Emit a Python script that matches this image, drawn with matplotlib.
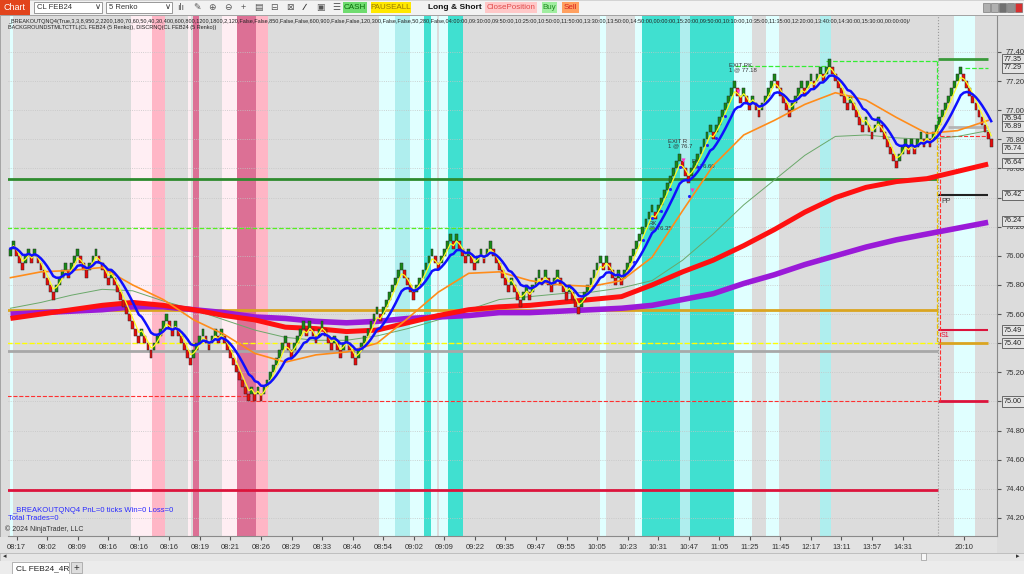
import numpy as np
import pandas as pd
import matplotlib
matplotlib.use("Agg")
import matplotlib.pyplot as plt
from matplotlib.patches import Rectangle

plt.rcParams['font.family'] = ['Liberation Sans', 'DejaVu Sans']

BRICK = 0.05

# renko closes, one per brick (5 Renko, CL FEB24)
closes = [
    76.05, 76.10, 76.00, 75.95, 75.90, 76.00, 76.05, 75.95, 76.05, 75.95,
    75.90, 75.85, 75.80, 75.75, 75.70, 75.80, 75.85, 75.90, 75.95, 75.85,
    75.95, 76.00, 76.05, 75.95, 75.90, 75.85, 75.95, 76.00, 76.05, 75.95,
    75.90, 75.85, 75.80, 75.90, 75.80, 75.75, 75.70, 75.65, 75.60, 75.55,
    75.50, 75.45, 75.40, 75.50, 75.40, 75.35, 75.30, 75.40, 75.45, 75.50,
    75.55, 75.60, 75.50, 75.45, 75.55, 75.45, 75.40, 75.35, 75.30, 75.25,
    75.35, 75.40, 75.45, 75.50, 75.40, 75.35, 75.45, 75.50, 75.40, 75.50,
    75.40, 75.35, 75.30, 75.25, 75.20, 75.15, 75.10, 75.05, 75.00, 75.10,
    75.00, 75.10, 75.00, 75.10, 75.15, 75.20, 75.25, 75.30, 75.35, 75.40,
    75.45, 75.35, 75.30, 75.40, 75.45, 75.50, 75.55, 75.45, 75.55, 75.45,
    75.40, 75.50, 75.55, 75.45, 75.40, 75.35, 75.45, 75.35, 75.30, 75.40,
    75.45, 75.35, 75.30, 75.25, 75.35, 75.40, 75.45, 75.50, 75.55, 75.60,
    75.65, 75.55, 75.65, 75.70, 75.75, 75.80, 75.85, 75.90, 75.95, 75.85,
    75.80, 75.75, 75.70, 75.80, 75.85, 75.90, 75.95, 76.00, 76.05, 75.95,
    75.90, 76.00, 76.05, 76.10, 76.15, 76.05, 76.15, 76.05, 76.00, 75.95,
    76.05, 75.95, 75.90, 76.00, 76.05, 75.95, 76.05, 76.10, 76.00, 75.95,
    75.90, 75.85, 75.80, 75.75, 75.85, 75.75, 75.70, 75.65, 75.75, 75.80,
    75.70, 75.80, 75.85, 75.90, 75.80, 75.90, 75.80, 75.75, 75.85, 75.90,
    75.80, 75.75, 75.70, 75.80, 75.70, 75.65, 75.60, 75.70, 75.75, 75.80,
    75.85, 75.90, 75.95, 76.00, 75.90, 76.00, 75.90, 75.85, 75.80, 75.90,
    75.80, 75.90, 75.95, 76.00, 76.05, 76.10, 76.15, 76.20, 76.25, 76.30,
    76.35, 76.25, 76.35, 76.40, 76.45, 76.50, 76.55, 76.60, 76.65, 76.70,
    76.60, 76.55, 76.50, 76.60, 76.65, 76.70, 76.75, 76.80, 76.85, 76.90,
    76.80, 76.90, 76.95, 77.00, 77.05, 77.10, 77.15, 77.20, 77.10, 77.05,
    77.15, 77.05, 77.00, 77.10, 77.00, 76.95, 77.05, 77.10, 77.15, 77.20,
    77.25, 77.15, 77.10, 77.05, 77.00, 76.95, 77.05, 77.10, 77.15, 77.20,
    77.10, 77.20, 77.25, 77.15, 77.25, 77.30, 77.20, 77.30, 77.35, 77.25,
    77.20, 77.15, 77.10, 77.05, 77.00, 77.10, 77.00, 76.95, 76.90, 76.85,
    76.95, 76.85, 76.80, 76.90, 76.95, 76.85, 76.80, 76.75, 76.70, 76.65,
    76.60, 76.70, 76.75, 76.80, 76.70, 76.80, 76.70, 76.80, 76.85, 76.75,
    76.85, 76.75, 76.85, 76.90, 76.95, 77.00, 77.05, 77.10, 77.15, 77.20,
    77.25, 77.30, 77.20, 77.15, 77.10, 77.05, 77.00, 76.95, 76.90, 76.85,
    76.80, 76.75,
]

# x axis labels (one every 10 bricks, one slot left empty)
tick_idx = [2, 12, 22, 32, 42, 52, 62, 72, 82, 92, 102, 112, 122, 132, 142, 152,
            162, 172, 182, 192, 202, 212, 222, 232, 242, 252, 262, 272, 282, 292, 312]
tick_labels = ['08:17', '08:02', '08:09', '08:16', '08:16', '08:16', '08:19', '08:21',
               '08:26', '08:29', '08:33', '08:46', '08:54', '09:02', '09:09', '09:22',
               '09:35', '09:47', '09:55', '10:05', '10:23', '10:31', '10:47', '11:05',
               '11:25', '11:45', '12:17', '13:11', '13:57', '14:31', '20:10']

# slow moving averages every 10 bricks
ma_idx = list(range(0, 330, 10))
orange_ma = [75.85, 75.89, 75.90, 75.92, 75.80, 75.70, 75.56, 75.46, 75.33, 75.27, 75.32,
             75.34, 75.40, 75.57, 75.75, 75.88, 75.89, 75.83, 75.80, 75.79, 75.83, 75.99,
             76.31, 76.62, 76.83, 76.93, 77.04, 77.12, 77.07, 76.95, 76.84, 76.86, 76.93]
green_ma = [75.64, 75.68, 75.73, 75.77, 75.76, 75.69, 75.63, 75.56, 75.49, 75.44, 75.42,
            75.42, 75.45, 75.50, 75.56, 75.63, 75.70, 75.72, 75.74, 75.75, 75.78, 75.83,
            75.97, 76.15, 76.35, 76.52, 76.69, 76.82, 76.83, 76.81, 76.80, 76.82, 76.86]
red_ma = [75.57, 75.60, 75.63, 75.66, 75.68, 75.66, 75.63, 75.59, 75.56, 75.51, 75.50,
          75.48, 75.49, 75.54, 75.59, 75.63, 75.65, 75.66, 75.68, 75.70, 75.72, 75.80,
          75.89, 75.97, 76.07, 76.18, 76.30, 76.40, 76.47, 76.51, 76.53, 76.58, 76.63]
purple_ma = [75.60, 75.61, 75.62, 75.63, 75.65, 75.65, 75.63, 75.61, 75.58, 75.57, 75.55,
             75.54, 75.55, 75.57, 75.58, 75.59, 75.61, 75.61, 75.62, 75.63, 75.64, 75.66,
             75.70, 75.74, 75.81, 75.87, 75.94, 76.00, 76.06, 76.11, 76.15, 76.19, 76.23]

# background session bands (brick index ranges)
band_start = [-0.1, 39.5, 46.3, 58.1, 59.8, 69.3, 74.2, 80.4, 120.6, 125.9, 130.8, 135.4,
              137.7, 140.3, 143.2, 193.0, 204.5, 206.8, 219.2, 222.5, 236.9, 247.3, 265.0, 308.9]
band_end = [0.9, 46.3, 50.6, 59.1, 61.7, 74.2, 80.4, 84.3, 125.9, 130.8, 135.4, 137.7,
            139.6, 143.2, 148.2, 195.0, 206.8, 219.2, 222.5, 236.9, 242.8, 251.6, 268.6, 315.8]
band_kind = ['lc', 'lp', 'p', 'lp', 'dp', 'lp', 'dp', 'p', 'lc', 'c', 'lc', 't',
             'lc', 'lc', 't', 'lc', 'lc', 't', 'c', 't', 'lc', 'lc', 'c', 'lc']
band_colors = {'lc': '#e0ffff', 'c': '#afeeee', 't': '#40e0d0',
               'lp': '#ffeef3', 'p': '#ffb6c6', 'dp': '#dc7095'}

# price levels: (price, from brick, to brick, colour, width, style)
levels = [
    (76.53, -1, 303.6, '#2e8b2e', 2.0, '-'),
    (76.19, -1, 211, '#55ee22', 0.9, '--'),
    (75.63, -1, 303.6, '#daa520', 2.0, '-'),
    (75.345, -1, 303.6, '#a8a8a8', 2.0, '-'),
    (75.40, -1, 303.6, '#ffff00', 1.0, '--'),
    (75.04, -1, 78.5, '#ff3030', 0.8, '--'),
    (75.00, 78.5, 303.6, '#ff3030', 0.8, '--'),
    (74.39, -1, 303.6, '#dc143c', 2.0, '-'),
    (77.305, 237, 267, '#33ee33', 0.9, '--'),
    (77.335, 267, 303.6, '#33ee33', 0.9, '--'),
    (77.35, 303.6, 320, '#3a9a3a', 2.0, '-'),
    (77.29, 312.5, 320, '#33ee33', 0.9, '--'),
    (76.885, 307, 320, '#b4b4b4', 2.0, '-'),
    (76.42, 303.6, 320, '#222222', 1.5, '-'),
    (75.49, 303.6, 320, '#dc143c', 1.5, '-'),
    (75.40, 303.6, 320, '#daa520', 2.0, '-'),
    (75.00, 303.6, 320, '#dc143c', 2.0, '-'),
]

# price tags on the right axis
tag_values = [77.35, 77.29, 76.94, 76.89, 76.74, 76.64, 76.42, 76.24, 75.49, 75.40, 75.00]

W, H = 1024, 574
fig = plt.figure(figsize=(W / 100, H / 100), dpi=100)
fig.patch.set_facecolor('#e9e9e9')

# ---- window chrome (pixel coordinates) ----
bg = fig.add_axes([0, 0, 1, 1])
bg.set_xlim(0, W)
bg.set_ylim(H, 0)
bg.axis('off')
bg.add_patch(Rectangle((0, 0), W, 15, fc='#f2f2f2', ec='#c8c8c8', lw=0.5))
bg.add_patch(Rectangle((0, 15), W, 538, fc='#dcdcdc', ec='#9a9a9a', lw=0.6))
bg.add_patch(Rectangle((0, 537), 997, 16, fc='#e2e2e2'))
bg.add_patch(Rectangle((0, 553), W, 8, fc='#e6e6e6', ec='#bdbdbd', lw=0.5))
bg.add_patch(Rectangle((921, 553), 5, 7, fc='#f7f7f7', ec='#999999', lw=0.5))
bg.text(3, 557, '◂', fontsize=5, va='center', color='#333')
bg.text(1016, 557, '▸', fontsize=5, va='center', color='#333')
bg.add_patch(Rectangle((0, 561), W, 13, fc='#ececec'))
bg.add_patch(Rectangle((12, 562), 57, 12, fc='white', ec='#a8a8a8', lw=0.6))
bg.text(16, 568.5, 'CL FEB24_4R', fontsize=6, va='center', color='#222')
bg.add_patch(Rectangle((71, 562), 11, 11, fc='#dddddd', ec='#a8a8a8', lw=0.6))
bg.text(76.5, 567.5, '+', fontsize=7, va='center', ha='center', color='#333')

bg.add_patch(Rectangle((0, 0), 30, 15, fc='#e2441c'))
bg.text(3, 7.5, 'Chart', fontsize=6.5, va='center', color='white')
for x0, w, s in [(34, 68, 'CL FEB24'), (106, 66, '5 Renko')]:
    bg.add_patch(Rectangle((x0, 2), w, 11, fc='white', ec='#8a8a8a', lw=0.6))
    bg.text(x0 + 3, 7.5, s, fontsize=5.5, va='center', color='#333')
    bg.text(x0 + w - 7, 7.5, '∨', fontsize=6, va='center', color='#333')
icons = ['ılı', '✎', '⊕', '⊖', '+', '▤', '⊟', '⊠', '∕∕', '▣', '☰']
for k, g in enumerate(icons):
    bg.text(181 + 15.5 * k, 7.5, g, fontsize=6.5, va='center', ha='center', color='#555')
buttons = [(343, 24, '#6fdc6f', 'CASH', '#0a6e0a'), (371, 40, '#ffe800', 'PAUSEALL', '#9a7a00'),
           (485, 52, '#ffc8c8', 'ClosePosition', '#e04a4a'), (542, 15, '#a0eea0', 'Buy', '#1f8b1f'),
           (562, 17, '#ffa060', 'Sell', '#d82020')]
for x0, w, fc, s, tc in buttons:
    bg.add_patch(Rectangle((x0, 2), w, 11, fc=fc))
    bg.text(x0 + w / 2, 7.5, s, fontsize=5.8, va='center', ha='center', color=tc)
bg.text(455, 7.5, 'Long & Short', fontsize=6, va='center', ha='center',
        fontweight='bold', color='#111')
for k, fc in enumerate(['#b0b0b0', '#b0b0b0', '#707070', '#909090', '#d83030']):
    bg.add_patch(Rectangle((983 + 8 * k, 3), 7, 9, fc=fc, ec='#666', lw=0.4))
bg.text(985, 30, '→', fontsize=9, va='center', ha='center', color='#222')

# ---- price chart ----
ax = fig.add_axes([8 / W, 1 - 536 / H, 989 / W, 520 / H])
ax.set_facecolor('#dcdcdc')
ax.set_xlim(-0.8, 322.9)
ax.set_ylim(74.076, 77.647)

for s, e, k in zip(band_start, band_end, band_kind):
    ax.axvspan(s, e, color=band_colors[k], lw=0, zorder=0.5)

yt = np.round(np.arange(74.2, 77.41, 0.2), 2)
ax.set_yticks(yt)
# labels hidden under a price tag are left blank, as on the chart
ax.set_yticklabels(['' if min(abs(v - t) for t in tag_values) < 0.035 else f'{v:.2f}' for v in yt])
ax.grid(axis='y', color='#c4c4c4', ls=':', lw=0.6, zorder=0.6)
ax.yaxis.tick_right()
ax.set_xticks(tick_idx)
ax.set_xticklabels(tick_labels)
ax.tick_params(axis='both', labelsize=5.5, length=3, color='#555', labelcolor='#333', pad=3)
for side in ['left', 'top']:
    ax.spines[side].set_visible(False)
for side in ['bottom', 'right']:
    ax.spines[side].set_color('#8a8a8a')

for p, x0, x1, c, lw, ls in levels:
    ax.plot([x0, x1], [p, p], color=c, lw=lw, ls=ls, zorder=2, solid_capstyle='butt')
ax.axvline(303.6, color='#9a9a9a', ls=':', lw=0.8, zorder=2)
ax.plot([303.3, 303.3], [77.335, 76.90], color='#33ee33', ls='--', lw=0.9, zorder=2)
ax.plot([303.3, 303.3], [76.90, 75.40], color='#e8c000', ls='--', lw=0.9, zorder=2)
ax.plot([304.2, 304.2], [76.85, 75.00], color='#ff3030', ls='--', lw=0.8, zorder=2)
ax.plot([304.2, 320], [76.82, 76.82], color='#ff3030', ls='--', lw=0.8, zorder=2)
ax.text(304.6, 76.40, 'PP', fontsize=5, color='#333', va='top')
ax.text(304.6, 75.475, 'S1', fontsize=5, color='#dc143c', va='top')

# bricks
c = np.array(closes)
idx = np.arange(len(c))
up = np.r_[True, np.diff(c) > 0]
low = np.where(up, c - BRICK, c)
ax.bar(idx, BRICK, bottom=low, width=0.92, color=np.where(up, '#168a16', '#e60c0c'),
       edgecolor='#2b2b2b', linewidth=0.35, zorder=4)

# moving averages
ax.plot(ma_idx, green_ma, color='#6aa86a', lw=0.7, zorder=3)
ax.plot(ma_idx, purple_ma, color='#9a1ad8', lw=4, zorder=3, solid_capstyle='butt')
ax.plot(ma_idx, red_ma, color='#ff1010', lw=3.6, zorder=3.1, solid_capstyle='butt')
ax.plot(ma_idx, orange_ma, color='#ff8c1a', lw=1.2, zorder=5)
blue = pd.Series(c).ewm(span=10, adjust=False).mean()
yellow = pd.Series(c).ewm(span=4, adjust=False).mean()
ax.plot(idx, blue, color='#1010ff', lw=1.8, zorder=5.2)
ax.plot(idx, yellow, color='#ffff22', lw=0.9, zorder=5.1)

# trade marks on the up leg
ent = np.arange(204, 236, 3)
ax.scatter(ent, c[ent] - 0.09, s=5, color='#2020ff', zorder=6, lw=0)
ax.scatter([238, 220, 223], [77.13, 76.66, 76.45], marker='v', s=9, color='#ff33cc', zorder=6, lw=0)
ax.annotate('EXIT RK\n1 @ 77.18', (237, c[237]), xytext=(-4, 6), textcoords='offset points',
            fontsize=4.3, color='#333', va='bottom', linespacing=0.9)
ax.annotate('EXIT R\n1 @ 76.7', (219, c[219]), xytext=(-8, 4), textcoords='offset points',
            fontsize=4.3, color='#333', va='bottom', linespacing=0.9)
ax.annotate('RK\n@ 76.60', (223, c[223]), xytext=(0, 0), textcoords='offset points',
            fontsize=4.3, color='#333', va='bottom', linespacing=0.9)
ax.annotate('RK\n@ 76.35', (208, c[208]), xytext=(2, -8), textcoords='offset points',
            fontsize=4.3, color='#333', va='bottom', linespacing=0.9)

for v in tag_values:
    ax.annotate(f'{v:.2f}', xy=(1.0, v), xycoords=('axes fraction', 'data'),
                xytext=(5, 0), textcoords='offset points', fontsize=5.2, va='center',
                color='#222', annotation_clip=False, zorder=8,
                bbox=dict(boxstyle='square,pad=0.22', fc='#e4e4e4', ec='#555', lw=0.6))

# ---- overlay texts ----
def ftxt(x, y, s, **kw):
    fig.text(x / W, 1 - y / H, s, **kw)

ftxt(8, 21, '_BREAKOUTQNQ4(True,3,3,8,950,2,2200,180,70,60,50,40,30,400,600,800,1200,1800,2,120,'
     'False,False,850,False,False,600,900,False,False,120,300,False,False,50,280,False,04:00:00,'
     '09:30:00,09:50:00,10:25:00,10:50:00,11:50:00,13:30:00,13:50:00,14:50:00,00:00:00,15:20:00,'
     '09:50:00,10:10:00,10:35:00,11:35:00,12:20:00,13:40:00,14:30:00,15:30:00,00:00:00)/',
     fontsize=4.0, va='center', color='#222')
ftxt(8, 28, 'BACKGROUNDSTMLTCTTL(CL FEB24 (5 Renko)), DISCRNQ(CL FEB24 (5 Renko))',
     fontsize=4.0, va='center', color='#222')
ftxt(12, 511, '_BREAKOUTQNQ4 PnL=0 ticks Win=0 Loss=0', fontsize=5.5, va='center', color='#2a2aff')
ftxt(8, 518, 'Total Trades=0', fontsize=5.5, va='center', color='#2a2aff')
ftxt(5, 529, '© 2024 NinjaTrader, LLC', fontsize=5, va='center', color='#333')

fig.savefig('out.png', dpi=100)
